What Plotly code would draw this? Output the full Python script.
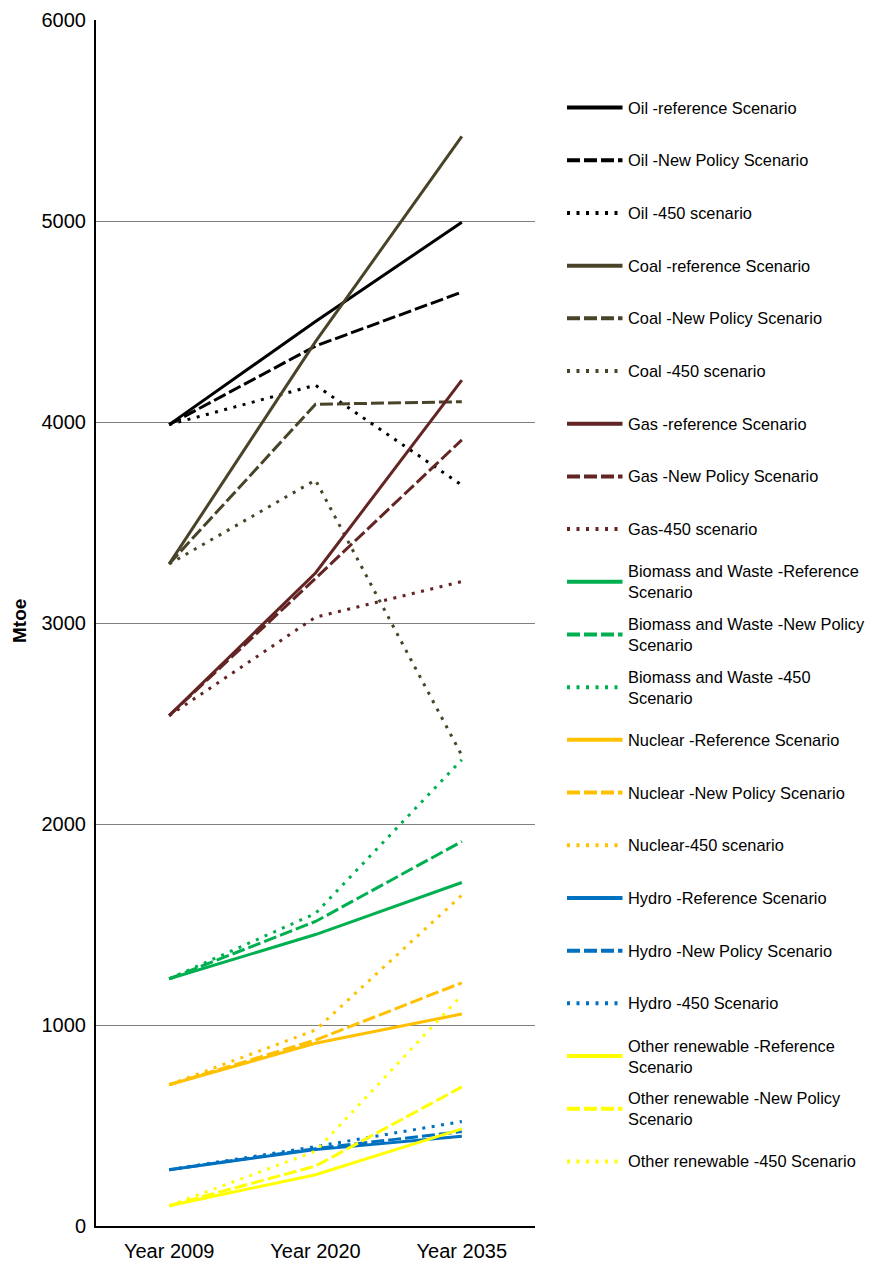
import plotly.graph_objects as go

years = ["Year 2009", "Year 2020", "Year 2035"]

oil_ref = [3987, 4500, 4994]
oil_np = [3987, 4378, 4646]
oil_450 = [3987, 4183, 3686]
coal_ref = [3294, 4400, 5421]
coal_np = [3294, 4088, 4101]
coal_450 = [3294, 3711, 2341]
gas_ref = [2539, 3249, 4208]
gas_np = [2539, 3222, 3911]
gas_450 = [2539, 3029, 3206]
bio_ref = [1230, 1450, 1709]
bio_np = [1230, 1515, 1913]
bio_450 = [1230, 1555, 2320]
nuc_ref = [703, 909, 1055]
nuc_np = [703, 925, 1210]
nuc_450 = [703, 975, 1646]
hyd_ref = [280, 380, 447]
hyd_np = [280, 385, 470]
hyd_450 = [280, 395, 520]
oth_ref = [101, 255, 483]
oth_np = [101, 298, 692]
oth_450 = [101, 372, 1149]

names = [
    "Oil -reference Scenario", "Oil -New Policy Scenario", "Oil -450 scenario",
    "Coal -reference Scenario", "Coal -New Policy Scenario", "Coal -450 scenario",
    "Gas -reference Scenario", "Gas -New Policy Scenario", "Gas-450 scenario",
    "Biomass and Waste -Reference<br>Scenario", "Biomass and Waste -New Policy<br>Scenario",
    "Biomass and Waste -450<br>Scenario",
    "Nuclear -Reference Scenario", "Nuclear -New Policy Scenario", "Nuclear-450 scenario",
    "Hydro -Reference Scenario", "Hydro -New Policy Scenario", "Hydro -450 Scenario",
    "Other renewable -Reference<br>Scenario", "Other renewable -New Policy<br>Scenario",
    "Other renewable -450 Scenario",
]
series = [oil_ref, oil_np, oil_450, coal_ref, coal_np, coal_450, gas_ref, gas_np, gas_450,
          bio_ref, bio_np, bio_450, nuc_ref, nuc_np, nuc_450, hyd_ref, hyd_np, hyd_450,
          oth_ref, oth_np, oth_450]
fuel_colors = ["#000000", "#494429", "#632523", "#00B050", "#FFC000", "#0070C0", "#FFFF00"]
dashes = ["solid", "13px,4px", "3px,6.5px"]

W, H = 870, 1262
ML, MT, MB = 96, 20, 34
PW = W - ML
PH = H - MT - MB
plot_right = 535

def px_x(p):
    return (p - ML) / PW

def px_y(p):
    return (H - MB - p) / PH

fig = go.Figure()
shapes = []
annotations = []
for i, (nm, vals) in enumerate(zip(names, series)):
    color = fuel_colors[i // 3]
    dash = dashes[i % 3]
    fig.add_trace(go.Scatter(
        x=years, y=vals, mode="lines", name=nm.replace("<br>", " "),
        line=dict(color=color, width=3, dash=dash), showlegend=False,
    ))
    ly = 107.7 + i * 52.78
    shapes.append(dict(type="line", xref="paper", yref="paper",
                       x0=px_x(567), x1=px_x(622.5), y0=px_y(ly), y1=px_y(ly),
                       line=dict(color=color, width=4, dash=dash)))
    annotations.append(dict(xref="paper", yref="paper", x=px_x(626), y=px_y(ly),
                            xanchor="left", yanchor="middle", showarrow=False,
                            text=nm, align="left",
                            font=dict(size=16.4, color="#000000")))

annotations.append(dict(xref="paper", yref="paper", x=px_x(19), y=px_y(622),
                        xanchor="center", yanchor="middle", showarrow=False,
                        text="<b>Mtoe</b>", textangle=-90,
                        font=dict(size=19, color="#000000")))

fig.update_layout(
    width=W, height=H,
    margin=dict(l=ML, r=0, t=MT, b=MB, pad=0),
    paper_bgcolor="white", plot_bgcolor="white",
    font=dict(family="Liberation Sans, Arial, sans-serif", color="#000000"),
    shapes=shapes, annotations=annotations,
    xaxis=dict(domain=[0, (plot_right - ML) / PW], type="category",
               range=[-0.5, 2.5], showgrid=False, zeroline=False,
               showline=True, linecolor="#000000", linewidth=2,
               ticks="", tickfont=dict(size=20), ticklabelstandoff=6),
    yaxis=dict(range=[0, 6000], dtick=1000, showgrid=True, gridcolor="#7F7F7F",
               gridwidth=1.3, zeroline=False, showline=True, linecolor="#000000",
               linewidth=2, ticks="", tickfont=dict(size=20), ticklabelstandoff=4),
)

fig.write_html("out.html", config={"displayModeBar": False},
               post_script="document.body.style.margin='0';document.body.style.overflow='hidden';")
